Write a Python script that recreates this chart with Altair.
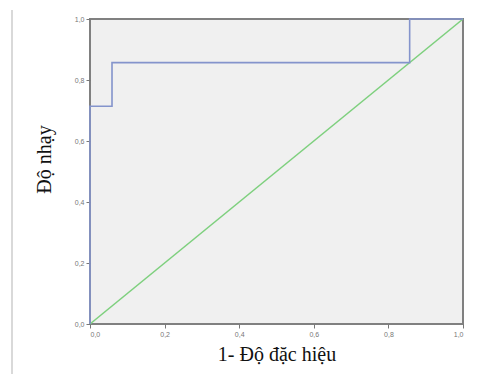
import altair as alt
import pandas as pd

# ROC curve points (1 - specificity, sensitivity)
roc_x = [0.0, 0.0, 0.059, 0.059, 0.857, 0.857, 1.0]
roc_y = [0.0, 0.714, 0.714, 0.857, 0.857, 1.0, 1.0]
ref_x = [0.0, 1.0]
ref_y = [0.0, 1.0]
ticks = [0.0, 0.2, 0.4, 0.6, 0.8, 1.0]

roc = pd.DataFrame({"x": roc_x, "y": roc_y, "o": list(range(len(roc_x)))})
ref = pd.DataFrame({"x": ref_x, "y": ref_y, "o": [0, 1]})

lbl = "replace(format(datum.value, '.1f'), '.', ',')"
xs = alt.Scale(domain=[0, 1], nice=False, zero=False)
ys = alt.Scale(domain=[0, 1], nice=False, zero=False)

xax = alt.Axis(values=ticks, labelExpr=lbl, title="1- Độ đặc hiệu", grid=False,
               labelFontSize=7, labelColor="#777", tickColor="#777", tickSize=4,
               domain=False, titleFont="Liberation Serif", titleFontSize=20,
               titleFontWeight="normal", titleColor="#111", titlePadding=7)
yax = alt.Axis(values=ticks, labelExpr=lbl, title="Độ nhạy", grid=False,
               labelFontSize=7, labelColor="#777", tickColor="#777", tickSize=4,
               domain=False, titleFont="Liberation Serif", titleFontSize=20,
               titleFontWeight="normal", titleColor="#111", titlePadding=20,
               titleY=140)

line_ref = alt.Chart(ref).mark_line(color="#7ed07e", strokeWidth=1.6).encode(
    x=alt.X("x:Q", scale=xs, axis=xax),
    y=alt.Y("y:Q", scale=ys, axis=yax),
    order="o:Q",
)
line_roc = alt.Chart(roc).mark_line(color="#8494cc", strokeWidth=1.6).encode(
    x=alt.X("x:Q", scale=xs),
    y=alt.Y("y:Q", scale=ys),
    order="o:Q",
)
side = alt.Chart(pd.DataFrame({"a": [0]})).mark_rule(color="#c0c0c0", strokeWidth=1.2).encode(
    x=alt.value(-78), y=alt.value(-9), y2=alt.value(365)
)

chart = alt.layer(line_ref, line_roc, side).properties(
    width=373, height=305,
    autosize=alt.AutoSizeParams(type="none"),
    padding={"left": 82, "top": 11, "right": 20, "bottom": 50},
    background="white",
).configure_view(fill="#f0f0f0", stroke="#808080", strokeWidth=2)

chart.save("out.html", embed_options={"renderer": "svg", "actions": False})
